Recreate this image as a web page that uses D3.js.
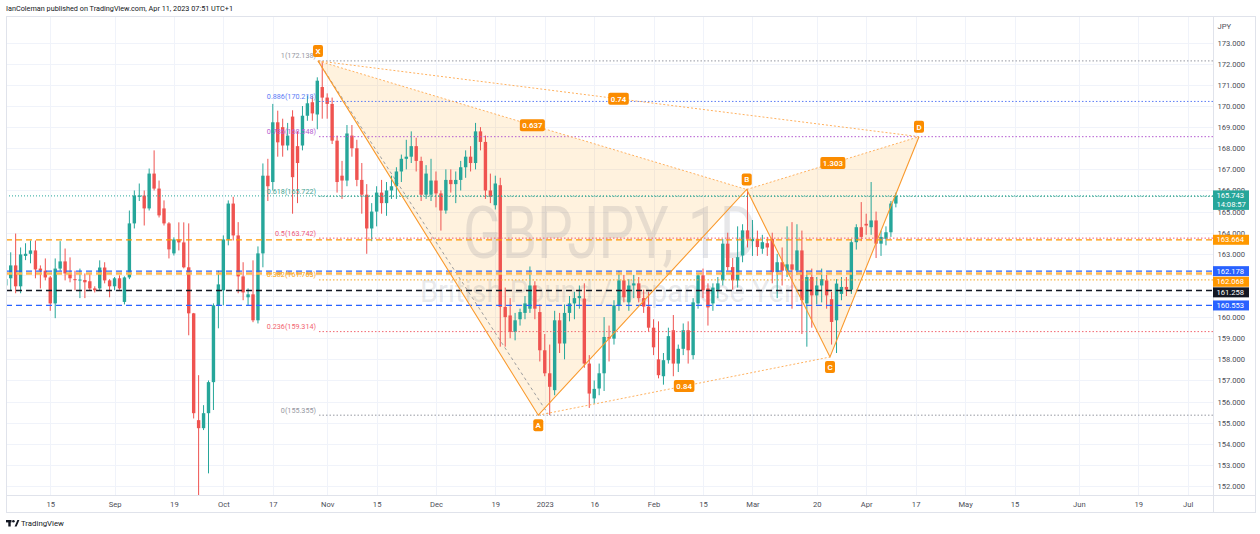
<!DOCTYPE html>
<html>
<head>
<meta charset="utf-8">
<script src="https://cdn.jsdelivr.net/npm/d3@7/dist/d3.min.js"></script>
<style>
  html, body { margin:0; padding:0; background:#ffffff; }
  svg { display:block; }
  text { font-family: Roboto, "Noto Sans", "DejaVu Sans", sans-serif; }
</style>
</head>
<body>
<svg id="chart" width="1260" height="534"></svg>
<script>
// ================= DATA =================
const firstBarDate = "2022-08-02";
const lastAxisDate = "2023-07-31";

const opens = [
161.5,161.84,162.45,161.46,162.90,163.00,163.16,162.30,162.20,161.88,
160.65,162.30,162.64,162.07,161.80,161.75,161.76,161.70,161.36,161.36,
162.35,161.74,161.46,161.84,160.72,161.88,164.44,165.70,165.76,165.15,
166.80,166.09,165.15,164.44,163.02,163.68,163.54,162.36,160.18,155.12,
154.74,155.45,156.92,160.56,161.27,163.68,165.38,163.87,161.93,160.94,
161.08,159.85,163.02,166.70,166.40,169.23,169.00,168.13,169.50,168.10,
168.13,169.54,170.18,169.60,170.90,170.40,170.10,168.36,166.70,166.47,
168.60,168.00,166.50,165.80,164.20,165.00,165.90,165.40,166.00,166.20,
166.90,167.50,167.60,168.10,167.40,165.80,165.80,166.47,165.86,165.05,
166.50,166.30,166.50,167.10,167.60,167.30,168.80,168.30,166.00,165.30,
166.25,160.48,160.08,159.30,159.90,160.20,160.40,161.50,160.24,158.43,
157.34,156.54,159.85,158.75,160.20,160.65,160.90,160.88,157.80,156.15,
156.62,157.34,159.06,158.98,160.56,161.74,160.70,161.50,161.60,160.90,
160.50,159.50,158.00,157.20,157.96,159.38,157.80,158.50,159.38,158.20,
160.65,161.98,161.36,160.65,161.30,161.74,163.48,162.37,161.74,162.92,
164.11,163.60,163.71,163.24,163.50,163.71,162.13,162.60,162.20,162.50,
162.21,163.16,160.65,161.90,161.03,161.50,161.74,160.85,159.85,161.10,
161.43,161.30,163.55,164.26,164.42,164.26,164.58,163.48,163.71,164.02,
165.38];
const highs = [
162.0,163.07,163.96,163.30,163.50,163.63,163.63,162.45,162.78,161.95,
162.78,163.60,163.25,162.83,162.20,162.30,162.07,162.07,161.46,162.69,
162.60,161.80,161.90,161.98,161.93,165.05,166.00,166.33,166.00,167.04,
167.90,166.47,165.53,164.50,163.78,164.49,164.49,164.44,160.20,157.25,
155.83,157.00,160.65,162.20,163.87,165.53,165.70,164.50,162.60,161.36,
162.69,163.35,167.28,167.50,170.10,169.78,169.40,169.20,169.80,168.80,
170.00,170.50,170.45,171.36,172.138,170.60,170.40,168.60,167.40,169.10,
169.10,168.40,167.30,166.30,165.40,166.20,166.50,166.40,166.70,167.10,
167.70,168.40,168.80,168.50,167.60,167.20,167.50,166.90,166.00,167.00,
167.00,166.90,167.40,167.90,168.10,169.20,169.00,168.60,166.80,166.70,
166.60,161.40,160.90,160.20,160.40,161.00,162.40,161.70,160.60,159.20,
158.70,160.30,160.20,160.60,161.00,161.20,161.50,161.60,158.20,157.00,
157.80,160.00,159.60,160.80,162.20,162.00,161.80,162.00,161.90,161.30,
161.20,159.90,159.80,158.30,159.50,160.10,158.70,159.70,159.80,160.90,
162.10,162.30,161.60,161.60,161.90,163.70,164.00,162.80,164.30,164.40,
166.08,164.60,164.10,163.90,163.80,164.00,163.00,163.30,164.30,164.50,
164.40,164.10,162.20,162.30,161.90,162.30,162.00,161.20,161.80,161.90,
161.90,163.70,164.40,165.45,164.90,166.40,165.00,164.10,164.30,165.50,
165.90];
const lows = [
160.9,161.27,161.13,161.13,162.70,162.55,161.84,161.36,161.74,160.30,
159.95,162.20,161.74,161.65,161.27,160.90,160.90,161.27,161.17,161.27,
161.60,160.94,161.27,161.30,160.60,161.80,164.20,165.50,164.34,165.05,
166.00,164.72,164.34,162.78,162.92,163.16,162.31,159.14,155.20,148.80,
154.65,152.60,155.60,159.47,160.56,163.40,163.63,161.13,160.80,160.56,
159.76,159.70,162.36,165.50,166.00,167.60,167.60,167.90,164.90,165.40,
167.90,169.30,169.30,168.90,169.40,169.40,168.20,165.90,165.60,166.20,
167.60,166.20,164.90,163.00,163.60,164.30,164.90,164.80,165.60,165.60,
166.40,167.00,167.30,166.90,165.50,165.60,165.50,165.20,164.10,164.90,
165.90,165.40,166.00,166.60,166.90,167.00,167.90,165.60,165.40,165.10,
158.60,158.60,159.00,158.90,159.60,159.90,160.20,159.90,157.90,157.20,
155.355,156.30,158.30,158.00,159.80,159.90,160.40,157.60,155.70,155.90,
156.30,156.50,157.90,158.70,160.30,160.70,160.30,160.90,160.70,160.20,
159.30,158.20,157.10,156.80,157.80,157.20,157.40,158.20,157.80,158.00,
160.40,160.90,159.60,160.30,160.90,161.50,162.20,161.30,161.40,162.60,
163.30,162.90,162.90,163.00,162.90,161.60,160.90,161.50,161.90,160.40,
162.00,159.20,158.60,159.50,160.60,160.70,160.40,158.70,158.30,160.80,
161.00,161.10,163.20,163.60,163.90,163.90,162.80,162.90,163.40,163.80,
165.20];
const closes = [
161.8,162.45,161.46,162.97,163.00,163.16,162.26,162.20,161.88,160.65,
162.30,162.64,162.07,161.84,161.75,161.78,161.65,161.36,161.27,162.35,
161.74,161.46,161.84,161.36,161.88,164.44,165.76,165.76,165.15,166.80,
166.09,164.82,164.44,163.21,163.68,163.54,162.36,160.18,155.45,154.74,
155.45,156.92,160.56,161.55,163.68,165.38,163.87,161.93,161.17,161.08,
159.85,163.02,166.70,166.20,169.23,168.28,168.13,168.60,166.63,167.30,
169.54,170.13,169.65,171.20,170.40,170.10,168.36,166.40,166.47,168.70,
168.00,166.50,165.80,164.20,165.00,165.90,165.40,166.00,166.20,166.90,
167.50,167.60,168.10,167.40,165.80,166.80,166.47,165.86,165.05,166.50,
166.30,166.50,167.10,167.60,167.30,168.80,168.30,166.00,165.70,166.33,
160.48,160.00,159.30,159.85,160.24,160.65,161.50,160.40,158.43,157.34,
156.70,159.85,158.75,160.20,160.65,160.90,161.00,157.80,156.38,156.60,
157.34,159.06,158.98,160.56,161.74,160.94,161.50,161.60,160.90,160.50,
159.50,158.57,157.25,157.96,159.10,157.80,158.50,159.38,158.43,160.70,
161.98,161.27,160.46,161.40,161.60,163.48,162.37,161.74,162.84,164.11,
163.71,163.70,163.32,163.55,163.30,162.13,162.60,162.20,162.50,162.25,
163.16,160.80,161.90,161.03,161.50,161.80,161.03,159.77,161.59,161.43,
161.30,163.55,164.26,163.80,164.34,164.58,163.48,163.80,164.02,165.38,
165.743];

const tickDates = ["2022-08-15","2022-09-01","2022-09-19","2022-10-03","2022-10-17","2022-11-01",
  "2022-11-15","2022-12-01","2022-12-19","2023-01-02","2023-01-16","2023-02-01","2023-02-15",
  "2023-03-01","2023-03-20","2023-04-03","2023-04-17","2023-05-01","2023-05-15","2023-06-01",
  "2023-06-19","2023-07-03"];
const tickLabels = ["15","Sep","19","Oct","17","Nov","15","Dec","19","2023","16","Feb","15",
  "Mar","20","Apr","17","May","15","Jun","19","Jul"];
// axis labels that are fully hidden behind price tags in the reference (161, 162) are omitted
const priceTicks = [152,153,154,155,156,157,158,159,160,163,164,165,166,167,168,169,170,171,172,173];
const gridPrices = [152,153,154,155,156,157,158,159,160,161,162,163,164,165,166,167,168,169,170,171,172,173];

const fibLevels = ["1","0.886","0.786","0.618","0.5","0.382","0.236","0"];
const fibPrices = [172.138,170.218,168.548,165.722,163.742,161.763,159.314,155.355];

const levelLinePrices = [163.664,162.178,162.068,161.258,160.553];
const lastPrice = 165.743;
const lastPriceTime = "14:08:57";

const patternLabels = ["X","A","B","C","D"];
const patternBars = [63.14,107.69,149.84,166.68,184.68];
const patternPrices = [172.138,155.355,166.046,158.11,168.548];
const ratioPairs = [[0,2],[1,3],[2,4],[0,4]];
const ratioLabels = ["0.637","0.84","1.303","0.74"];
const trendBars = [63.14,109.65];
const trendPrices = [172.138,155.42];

const headerText = "IanColeman published on TradingView.com, Apr 11, 2023 07:51 UTC+1";
const titleText = "GBPJPY, 1D";
const subtitleText = "British Pound / Japanese Yen";
const currencyText = "JPY";

// ================= STYLES =================
const UP = "#26a69a", DN = "#ef5350";
const fibColors = ["#9598a1","#5b7cf6","#b45bd0","#3fa592","#ec5a7d","#f5a623","#f2656f","#9598a1"];
const levelStyles = [
  {c:"#ff9800", w:1.2},
  {c:"#2962ff", w:1.2},
  {c:"#ffb74d", w:2.4},
  {c:"#131722", w:1.5},
  {c:"#2962ff", w:1.2}
];
const tagColors = ["#ff9800","#2962ff","#ff9800","#131722","#2962ff"];
const ORANGE = "#f99a2e", LABEL_BG = "#fb8c00";

// ================= LAYOUT =================
const P = {l:6, r:1213, t:16, b:495, R:1255, B:512};
const svg = d3.select("#chart");
svg.append("rect").attr("width",1260).attr("height",534).attr("fill","#fff");

const parse = d3.utcParse("%Y-%m-%d"), key = d3.utcFormat("%Y-%m-%d");
const days = d3.utcDay.range(parse(firstBarDate), d3.utcDay.offset(parse(lastAxisDate),1))
  .filter(d => d.getUTCDay() !== 0 && d.getUTCDay() !== 6);
const barOf = new Map(days.map((d,i)=>[key(d), i]));

const x = d3.scaleLinear().domain([0,100]).range([5.76, 5.76 + 494.5]);
const y = d3.scaleLinear().domain([173,152]).range([42.7, 42.7 + 21*21.11]);

svg.append("defs").append("clipPath").attr("id","plotClip")
  .append("rect").attr("x",P.l).attr("y",P.t).attr("width",P.r-P.l).attr("height",P.b-P.t);

// grid
const grid = svg.append("g").attr("clip-path","url(#plotClip)");
grid.selectAll("line.h").data(gridPrices).join("line")
  .attr("x1",P.l).attr("x2",P.r)
  .attr("y1",d=>Math.round(y(d))+0.5).attr("y2",d=>Math.round(y(d))+0.5)
  .attr("stroke","#f0f3fa").attr("stroke-width",1);
grid.selectAll("line.v").data(tickDates).join("line")
  .attr("y1",P.t).attr("y2",P.b)
  .attr("x1",d=>Math.round(x(barOf.get(d)))+0.5).attr("x2",d=>Math.round(x(barOf.get(d)))+0.5)
  .attr("stroke","#f0f3fa").attr("stroke-width",1);

// pattern fill (under candles)
const pts = patternBars.map((b,i)=>[x(b), y(patternPrices[i])]);
const pat = svg.append("g").attr("clip-path","url(#plotClip)");
[[0,1,2],[2,3,4]].forEach(tri=>{
  pat.append("path").attr("d", d3.line()(tri.map(k=>pts[k])) + "Z")
    .attr("fill","rgba(255,152,0,0.13)").attr("stroke","none");
});

// watermark
const wm = svg.append("g");
wm.append("text").attr("x",463).attr("y",258).attr("font-size",72)
  .attr("textLength",294).attr("lengthAdjust","spacingAndGlyphs")
  .attr("fill","rgba(120,123,134,0.18)").text(titleText);
wm.append("text").attr("x",420).attr("y",302).attr("font-size",31)
  .attr("textLength",380).attr("lengthAdjust","spacingAndGlyphs")
  .attr("fill","rgba(120,123,134,0.18)").text(subtitleText);

// candles
const bars = opens.map((o,i)=>({i, o, h:highs[i], l:lows[i], c:closes[i]}));
const cg = svg.append("g").attr("clip-path","url(#plotClip)");
cg.selectAll("line.wick").data(bars).join("line")
  .attr("x1",d=>x(d.i)).attr("x2",d=>x(d.i))
  .attr("y1",d=>y(d.h)).attr("y2",d=>y(d.l))
  .attr("stroke",d=>d.c>=d.o?UP:DN).attr("stroke-width",1);
cg.selectAll("rect.body").data(bars).join("rect")
  .attr("x",d=>x(d.i)-1.7).attr("width",3.4)
  .attr("y",d=>y(Math.max(d.o,d.c)))
  .attr("height",d=>Math.max(1, Math.abs(y(d.o)-y(d.c))))
  .attr("fill",d=>d.c>=d.o?UP:DN);

// horizontal level lines
const lv = svg.append("g").attr("clip-path","url(#plotClip)");
lv.selectAll("line").data(levelLinePrices).join("line")
  .attr("x1",P.l).attr("x2",P.r)
  .attr("y1",d=>y(d)).attr("y2",d=>y(d))
  .attr("stroke",(d,i)=>levelStyles[i].c).attr("stroke-width",(d,i)=>levelStyles[i].w)
  .attr("stroke-dasharray","6,4");
lv.append("line").attr("x1",P.l).attr("x2",P.r).attr("y1",y(lastPrice)).attr("y2",y(lastPrice))
  .attr("stroke",UP).attr("stroke-width",1).attr("stroke-dasharray","1,2");

// fib retracement
const fg = svg.append("g").attr("clip-path","url(#plotClip)");
fg.selectAll("line").data(fibPrices).join("line")
  .attr("x1",x(patternBars[0])+1).attr("x2",P.r)
  .attr("y1",d=>y(d)).attr("y2",d=>y(d))
  .attr("stroke",(d,i)=>fibColors[i]).attr("stroke-width",1).attr("stroke-dasharray","1.5,2");
fg.selectAll("text").data(fibPrices).join("text")
  .attr("x",316).attr("y",d=>y(d)-2.5).attr("text-anchor","end")
  .attr("font-size",7.2).attr("fill",(d,i)=>fibColors[i])
  .text((d,i)=>`${fibLevels[i]}(${d.toFixed(3)})`);

// trend (gray dashed)
pat.append("line")
  .attr("x1",x(trendBars[0])).attr("y1",y(trendPrices[0]))
  .attr("x2",x(trendBars[1])).attr("y2",y(trendPrices[1]))
  .attr("stroke","#9e9e9e").attr("stroke-width",1).attr("stroke-dasharray","3,3");

// pattern lines
const pl = svg.append("g").attr("clip-path","url(#plotClip)");
ratioPairs.forEach(([a,b])=>{
  pl.append("line").attr("x1",pts[a][0]).attr("y1",pts[a][1]).attr("x2",pts[b][0]).attr("y2",pts[b][1])
    .attr("stroke","#ffb260").attr("stroke-width",1).attr("stroke-dasharray","2,2");
});
pl.append("path").attr("d", d3.line()(pts)).attr("fill","none")
  .attr("stroke",ORANGE).attr("stroke-width",1.1);

function tagBox(g, cx, cy, txt, fs){
  const t = g.append("text").attr("x",cx).attr("y",cy+fs*0.36).attr("text-anchor","middle")
    .attr("font-size",fs).attr("font-weight",600).attr("fill","#fff").text(txt);
  const w = t.node().getComputedTextLength() + 5;
  g.insert("rect","text").attr("x",cx-w/2).attr("y",cy-6).attr("width",w).attr("height",12)
    .attr("rx",2).attr("fill",LABEL_BG);
}
ratioPairs.forEach(([a,b],i)=>{
  const g = pl.append("g");
  tagBox(g, (pts[a][0]+pts[b][0])/2, (pts[a][1]+pts[b][1])/2, ratioLabels[i], 7.8);
});
patternLabels.forEach((lab,i)=>{
  const above = (i % 2 === 0);
  const g = pl.append("g");
  g.append("text").attr("x",pts[i][0]).attr("y",pts[i][1] + (above?-10:10) + 2.9)
    .attr("text-anchor","middle").attr("font-size",8).attr("font-weight",600).attr("fill","#fff").text(lab);
  g.insert("rect","text").attr("x",pts[i][0]-5).attr("y",pts[i][1] + (above?-10:10) - 6)
    .attr("width",10).attr("height",12).attr("rx",2).attr("fill",LABEL_BG);
});

// frame
const fr = svg.append("g").attr("fill","none").attr("stroke","#e0e3eb").attr("stroke-width",1);
fr.append("rect").attr("x",P.l+0.5).attr("y",P.t+0.5).attr("width",P.R-P.l).attr("height",P.B-P.t);
fr.append("line").attr("x1",P.r+0.5).attr("x2",P.r+0.5).attr("y1",P.t).attr("y2",P.B);
fr.append("line").attr("x1",P.l).attr("x2",P.R).attr("y1",P.b+0.5).attr("y2",P.b+0.5);

// right axis
const ya = svg.append("g").attr("transform",`translate(${P.r},0)`)
  .call(d3.axisRight(y).tickValues(priceTicks).tickSize(0).tickPadding(4.5).tickFormat(d3.format(".3f")));
ya.select(".domain").remove();
ya.selectAll("text").attr("font-size",7.6).attr("fill","#4c4e57")
  .attr("font-family",'Roboto, "Noto Sans", sans-serif');
svg.append("text").attr("x",1217.5).attr("y",28.5).attr("font-size",7.6).attr("fill","#4c4e57").text(currencyText);

// bottom axis
const xa = svg.append("g").attr("transform",`translate(0,${P.b})`)
  .call(d3.axisBottom(x).tickValues(tickDates.map(d=>barOf.get(d))).tickSize(0).tickPadding(6.6)
    .tickFormat((d,i)=>tickLabels[i]));
xa.select(".domain").remove();
xa.selectAll("text").attr("font-size",7.6).attr("fill","#4c4e57")
  .attr("font-family",'Roboto, "Noto Sans", sans-serif');

// price tags on axis
const tagG = svg.append("g");
{
  const yl = y(lastPrice);
  tagG.append("rect").attr("x",P.r).attr("y",yl-5.5).attr("width",36).attr("height",19.5).attr("fill",UP);
  tagG.append("text").attr("x",1216.5).attr("y",yl+2.6).attr("font-size",7.6).attr("fill","#fff").text(lastPrice.toFixed(3));
  tagG.append("text").attr("x",1216.5).attr("y",yl+11.4).attr("font-size",7.6).attr("fill","#fff").text(lastPriceTime);
}
{
  let prev = -1e9;
  const order = levelLinePrices.map((p,i)=>({p,i})).sort((a,b)=>b.p-a.p);
  order.forEach(o=>{
    let cy = y(o.p);
    if (o.i > 0) { cy = Math.max(cy, prev + 10.6); }
    prev = cy;
    tagG.append("rect").attr("x",P.r).attr("y",cy-5).attr("width",36).attr("height",10).attr("fill",tagColors[o.i]);
    tagG.append("text").attr("x",1216.5).attr("y",cy+2.7).attr("font-size",7.6).attr("fill","#fff").text(o.p.toFixed(3));
  });
}

// header & logo
svg.append("text").attr("x",6).attr("y",11).attr("font-size",7.8).attr("fill","#131722")
  .attr("textLength",227).attr("lengthAdjust","spacingAndGlyphs").text(headerText);
const logo = svg.append("g").attr("fill","#131722");
logo.append("rect").attr("x",6).attr("y",520).attr("width",5.5).attr("height",2.4);
logo.append("rect").attr("x",8.3).attr("y",520).attr("width",2.4).attr("height",6.5);
logo.append("circle").attr("cx",13.4).attr("cy",521.3).attr("r",1.3);
logo.append("path").attr("d","M14.6,526.5 L17.4,520 L19.4,520 L16.6,526.5 Z");
svg.append("text").attr("x",21).attr("y",526.3).attr("font-size",7.8).attr("fill","#131722").text("TradingView");
</script>
</body>
</html>
